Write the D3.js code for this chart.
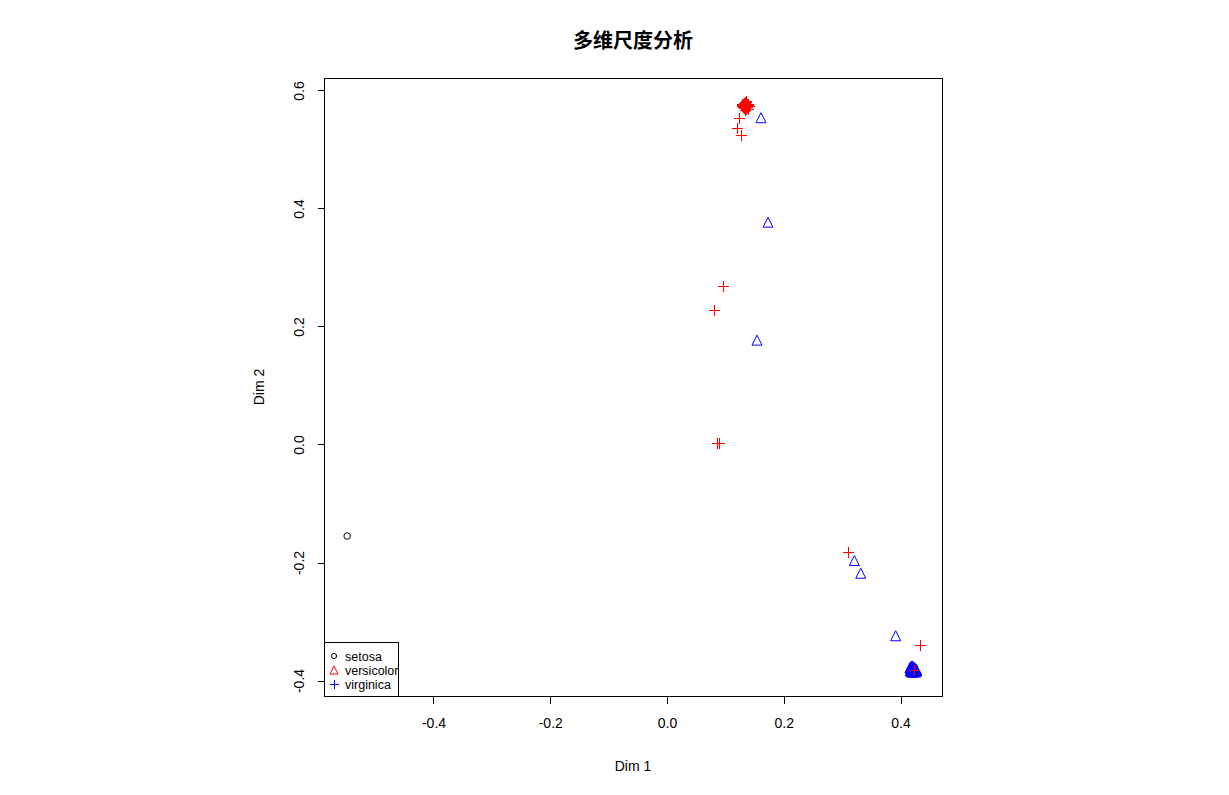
<!DOCTYPE html>
<html>
<head>
<meta charset="utf-8">
<script src="https://cdn.jsdelivr.net/npm/d3@7"></script>
<style>
  html, body { margin: 0; padding: 0; background: #fff; }
  svg { display: block; }
  text { font-family: "Liberation Sans", Arial, sans-serif; fill: #000; }
</style>
</head>
<body>
<svg id="chart" width="1229" height="795"></svg>
<script>
// ---- data ----
const titleText = "多维尺度分析";
const xLabel = "Dim 1";
const yLabel = "Dim 2";
const xTicks = [-0.4, -0.2, 0.0, 0.2, 0.4];
const yTicks = [-0.4, -0.2, 0.0, 0.2, 0.4, 0.6];
const legendLabels = ["setosa", "versicolor", "virginica"];

// black circles
const circlePts = [[-0.547, -0.156]];

// red plus marks
const plusPts = [
  [0.134,0.580],[0.136,0.581],[0.133,0.578],[0.138,0.577],[0.131,0.576],[0.135,0.575],
  [0.139,0.574],[0.130,0.573],[0.133,0.572],[0.137,0.572],[0.140,0.575],[0.135,0.578],
  [0.132,0.574],[0.136,0.573],[0.134,0.576],[0.137,0.579],[0.131,0.571],[0.138,0.571],
  [0.135,0.570],[0.133,0.569],[0.129,0.575],[0.141,0.573],[0.136,0.568],[0.134,0.573],
  [0.132,0.577],[0.139,0.576],[0.130,0.577],[0.137,0.575],[0.135,0.566],[0.139,0.567],
  [0.1245,0.552],[0.1213,0.535],[0.1276,0.524],
  [0.0973,0.268],[0.0819,0.227],
  [0.0857,0.002],[0.0904,0.002],
  [0.3114,-0.1825],[0.4343,-0.3412],[0.4245,-0.3830]
];

// blue triangles
const triPts = [
  [0.1619,0.5530],[0.1739,0.3760],[0.1550,0.1760],
  [0.3217,-0.1975],[0.3327,-0.2190],[0.3926,-0.3250],
  [0.4170,-0.3790],[0.4190,-0.3770],[0.4210,-0.3760],[0.4230,-0.3780],[0.4250,-0.3790],
  [0.4270,-0.3810],[0.4285,-0.3830],[0.4180,-0.3820],[0.4200,-0.3840],[0.4220,-0.3810],
  [0.4240,-0.3830],[0.4260,-0.3850],[0.4190,-0.3860],[0.4215,-0.3870],[0.4245,-0.3865],
  [0.4275,-0.3860],[0.4200,-0.3800],[0.4235,-0.3800],[0.4260,-0.3825],[0.4175,-0.3845],
  [0.4225,-0.3850],[0.4280,-0.3845],[0.4205,-0.3775],[0.4250,-0.3805]
];

// ---- layout ----
const svg = d3.select("#chart");
const box = {left: 324, right: 942, top: 78, bottom: 696};

const x = d3.scaleLinear().domain([-0.5867, 0.4719]).range([box.left, box.right]);
const y = d3.scaleLinear().domain([-0.4271, 0.6203]).range([box.bottom, box.top]);
const fmt = d => d.toFixed(1);

// title
svg.append("text")
  .attr("x", (box.left + box.right) / 2).attr("y", 48)
  .attr("text-anchor", "middle")
  .style("font-family", "'Noto Sans CJK SC', sans-serif")
  .style("font-weight", "bold").style("font-size", "20px")
  .text(titleText);

// plot box
svg.append("rect")
  .attr("x", box.left + 0.5).attr("y", box.top + 0.5)
  .attr("width", box.right - box.left).attr("height", box.bottom - box.top)
  .attr("fill", "none").attr("stroke", "#000").attr("stroke-width", 1)
  .attr("shape-rendering", "crispEdges");

// x axis
const gx = svg.append("g").attr("transform", `translate(0.5,${box.bottom + 0.5})`)
  .call(d3.axisBottom(x).tickValues(xTicks).tickSize(7).tickPadding(15).tickFormat(fmt));
gx.select(".domain").remove();
gx.selectAll("line").attr("shape-rendering", "crispEdges");
gx.selectAll("text").style("font-size", "14px").style("font-family", "'Liberation Sans', Arial, sans-serif");

// y axis
const gy = svg.append("g").attr("transform", `translate(${box.left + 0.5},0.5)`)
  .call(d3.axisLeft(y).tickValues(yTicks).tickSize(7).tickPadding(0).tickFormat(fmt));
gy.select(".domain").remove();
gy.selectAll("line").attr("shape-rendering", "crispEdges");
gy.selectAll("text")
  .attr("x", null).attr("dy", null)
  .attr("text-anchor", "middle")
  .attr("transform", "translate(-25,0) rotate(-90)")
  .attr("dy", "0.35em")
  .style("font-size", "14px").style("font-family", "'Liberation Sans', Arial, sans-serif");

// axis titles
svg.append("text")
  .attr("x", (box.left + box.right) / 2).attr("y", 771)
  .attr("text-anchor", "middle").style("font-size", "14px")
  .text(xLabel);
svg.append("text")
  .attr("transform", `translate(264,${(box.top + box.bottom) / 2}) rotate(-90)`)
  .attr("text-anchor", "middle").style("font-size", "14px")
  .text(yLabel);

// marks
const plot = svg.append("g");

function triPath(s) {
  const h = s; // half width
  return `M0,${-s}L${h},${s}L${-h},${s}Z`;
}
function plusPath(a) {
  return `M${-a},0H${a}M0,${-a}V${a}`;
}

plot.selectAll("circle.pt").data(circlePts).join("circle")
  .attr("class", "pt")
  .attr("cx", d => x(d[0])).attr("cy", d => y(d[1])).attr("r", 3.3)
  .attr("fill", "none").attr("stroke", "#000").attr("stroke-width", 1);

plot.selectAll("path.tri").data(triPts).join("path")
  .attr("class", "tri")
  .attr("transform", d => `translate(${x(d[0])},${y(d[1])})`)
  .attr("d", triPath(5))
  .attr("fill", "none").attr("stroke", "#0000ff").attr("stroke-width", 1);

plot.selectAll("path.plus").data(plusPts).join("path")
  .attr("class", "plus")
  .attr("transform", d => `translate(${Math.round(x(d[0])) + 0.5},${Math.round(y(d[1])) + 0.5})`)
  .attr("d", plusPath(5.5))
  .attr("fill", "none").attr("stroke", "#ff0000").attr("stroke-width", 1.1);

// legend
const lg = svg.append("g");
lg.append("rect")
  .attr("x", box.left + 0.5).attr("y", 642.5)
  .attr("width", 74).attr("height", box.bottom - 642)
  .attr("fill", "#fff").attr("stroke", "#000").attr("stroke-width", 1)
  .attr("shape-rendering", "crispEdges");
const legY = [656, 670, 684];
const symX = 334;
lg.append("circle").attr("cx", symX).attr("cy", legY[0]).attr("r", 2.6)
  .attr("fill", "none").attr("stroke", "#000");
lg.append("path").attr("transform", `translate(${symX},${legY[1]})`)
  .attr("d", triPath(4)).attr("fill", "none").attr("stroke", "#ff0000");
lg.append("path").attr("transform", `translate(${symX + 0.5},${legY[2] + 0.5})`)
  .attr("d", plusPath(4.5)).attr("fill", "none").attr("stroke", "#0000ff")
  .attr("shape-rendering", "crispEdges");
lg.selectAll("text.leg").data(legendLabels).join("text")
  .attr("class", "leg")
  .attr("x", 345).attr("y", (d, i) => legY[i])
  .attr("dy", "0.36em")
  .style("font-size", "12.5px")
  .text(d => d);
</script>
</body>
</html>
